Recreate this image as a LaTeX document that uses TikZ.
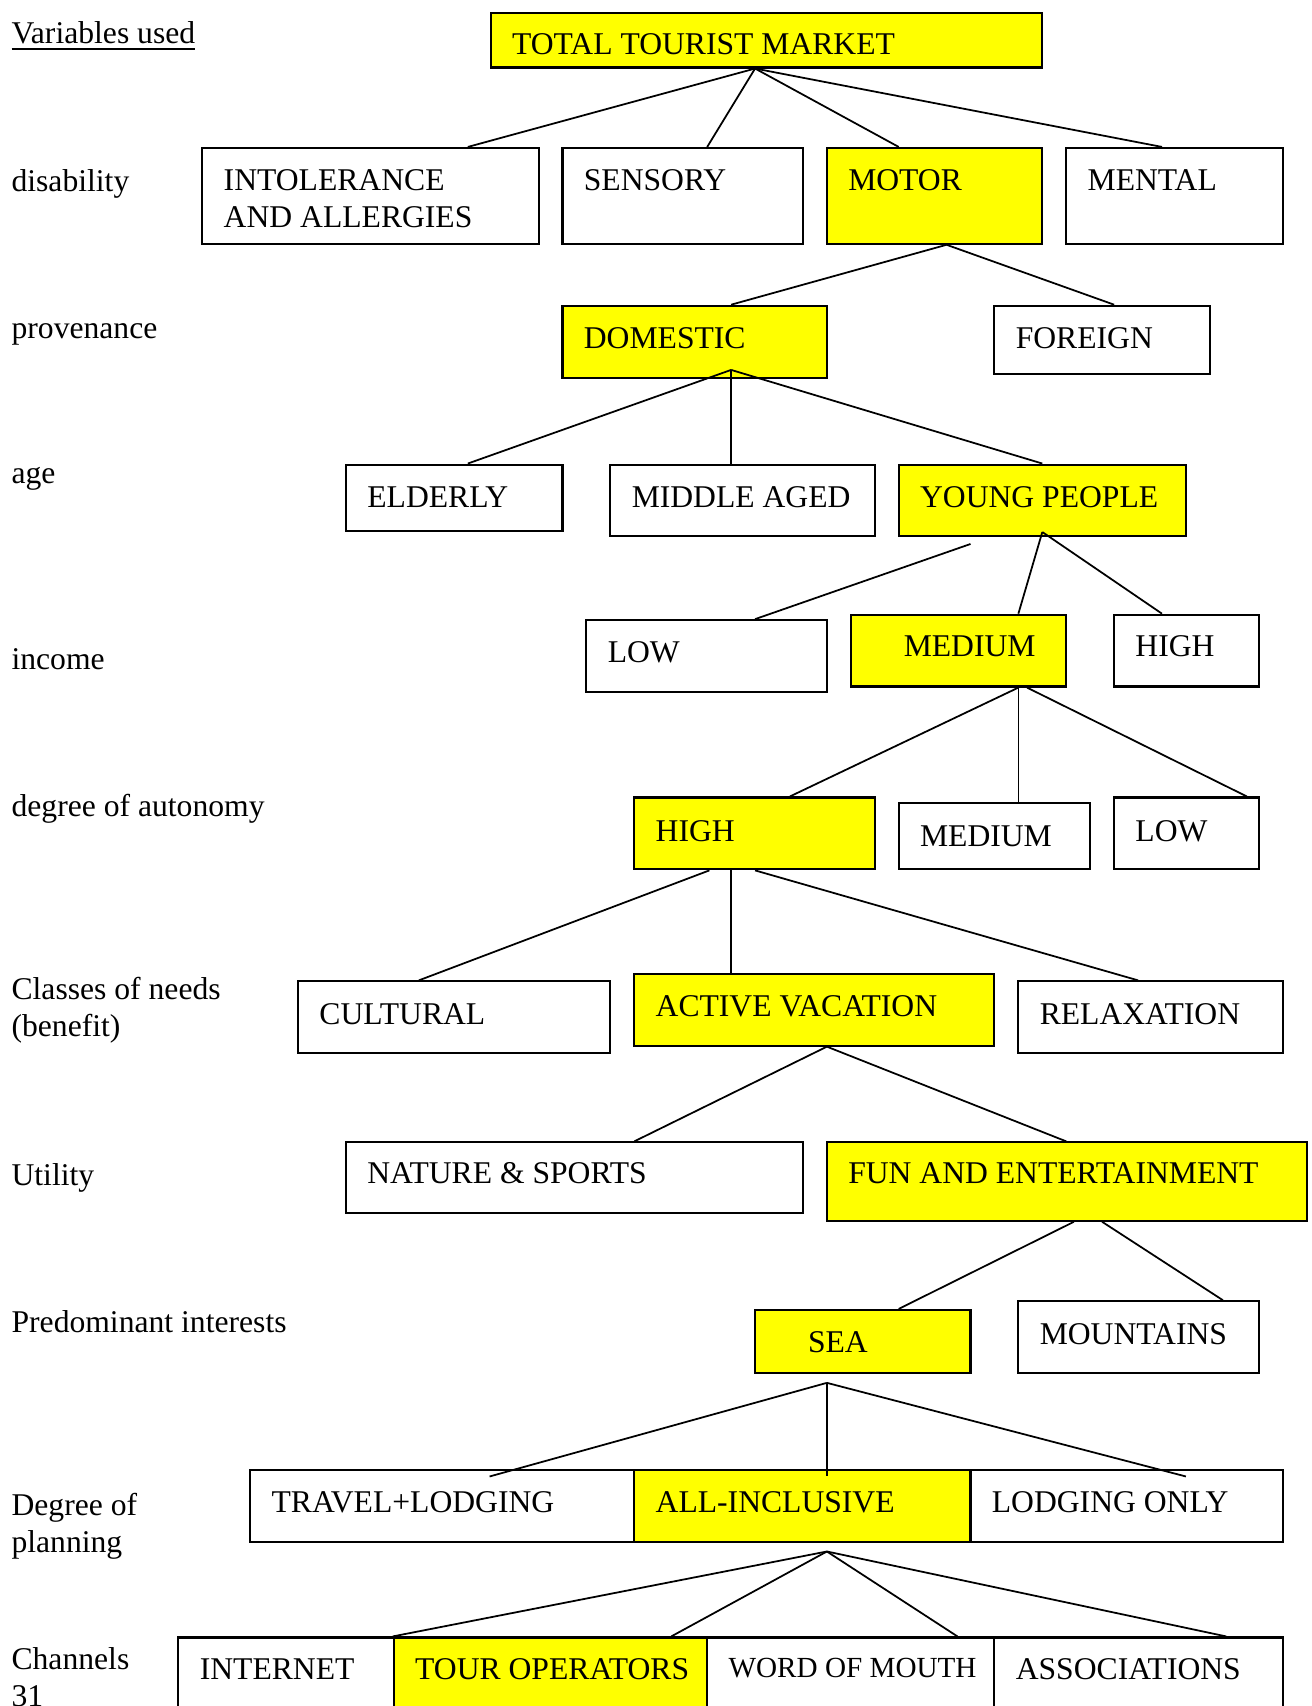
\documentclass[tikz,border=0pt]{standalone}
\usepackage{fontspec}
\setmainfont{Liberation Serif}
\usetikzlibrary{fit,calc}
\definecolor{hilite}{RGB}{255,255,0}
\tikzset{
  box/.style={draw,line width=0.6pt,inner sep=0pt},
  pick/.style={box,fill=hilite},
  txt/.style={anchor=base west,inner sep=0pt,align=left,font=\fontsize{9}{10.5}\selectfont},
  small/.style={txt,font=\fontsize{8.3}{10}\selectfont},
  link/.style={line width=0.5pt}
}
\begin{document}
\begin{tikzpicture}[x=0.01088cm,y=-0.01088cm]
  \useasboundingbox (0,0) rectangle (1205,1568);
  \clip (0,0) rectangle (1205,1568);
  \node[pick,fit={(451,12) (958,62)}] (ttm) {};
  \node[box,fit={(186,136) (495,224)}] (intol) {};
  \node[box,fit={(517,136) (738,224)}] (sens) {};
  \node[pick,fit={(760,136) (958,224)}] (motor) {};
  \node[box,fit={(980,136) (1179,224)}] (mental) {};
  \node[pick,fit={(517,281) (760,347)}] (dom) {};
  \node[box,fit={(914,281) (1112,344)}] (foreign) {};
  \node[box,fit={(318,427) (517,488)}] (elderly) {};
  \node[box,fit={(561,427) (804,493)}] (middle) {};
  \node[pick,fit={(826,427) (1090,493)}] (young) {};
  \node[box,fit={(539,570) (760,636)}] (inclow) {};
  \node[pick,fit={(782,565) (980,631)}] (incmed) {};
  \node[box,fit={(1024,565) (1157,631)}] (inchigh) {};
  \node[pick,fit={(583,733) (804,799)}] (authigh) {};
  \node[box,fit={(826,738) (1002,799)}] (autmed) {};
  \node[box,fit={(1024,733) (1157,799)}] (autlow) {};
  \node[box,fit={(274,902) (561,968)}] (cult) {};
  \node[pick,fit={(583,895) (914,961)}] (active) {};
  \node[box,fit={(936,902) (1179,968)}] (relax) {};
  \node[box,fit={(318,1050) (738,1115)}] (nature) {};
  \node[pick,fit={(760,1050) (1201,1122)}] (fun) {};
  \node[pick,fit={(694,1204) (892,1262)}] (sea) {};
  \node[box,fit={(936,1196) (1157,1262)}] (mount) {};
  \node[box,fit={(230,1351) (583,1417)}] (travel) {};
  \node[pick,fit={(583,1351) (892,1417)}] (allinc) {};
  \node[box,fit={(892,1351) (1179,1417)}] (lodging) {};
  \node[box,fit={(164,1505) (362,1620)}] (internet) {};
  \node[pick,fit={(362,1505) (650,1620)}] (tour) {};
  \node[box,fit={(650,1505) (914,1620)}] (word) {};
  \node[box,fit={(914,1505) (1179,1620)}] (assoc) {};

  \draw[link] (ttm.south -| 694,0) -- (intol.north -| 430,0);
  \draw[link] (ttm.south -| 694,0) -- (sens.north -| 650,0);
  \draw[link] (ttm.south -| 694,0) -- (motor.north -| 826,0);
  \draw[link] (ttm.south -| 694,0) -- (mental.north -| 1068,0);
  \draw[link] (motor.south -| 870,0) -- (dom.north -| 672,0);
  \draw[link] (motor.south -| 870,0) -- (foreign.north -| 1024,0);
  \draw[link] ($(dom.south -| 672,0)+(0,-8)$) -- (elderly.north -| 430,0);
  \draw[link] ($(dom.south -| 672,0)+(0,-8)$) -- (middle.north -| 672,0);
  \draw[link] ($(dom.south -| 672,0)+(0,-8)$) -- (young.north -| 958,0);
  \draw[link] ($(young.south -| 892,0)+(0,6)$) -- (inclow.north -| 694,0);
  \draw[link] ($(young.south -| 958,0)+(0,-5)$) -- (incmed.north -| 936,0);
  \draw[link] ($(young.south -| 958,0)+(0,-5)$) -- (inchigh.north -| 1068,0);
  \draw[link] (incmed.south -| 936,0) -- (authigh.north -| 726,0);
  \draw[link] (incmed.south -| 936,0) -- (autmed.north -| 936,0);
  \draw[link] (incmed.south -| 944,0) -- (autlow.north -| 1146,0);
  \draw[link] (authigh.south -| 652,0) -- (cult.north -| 385,0);
  \draw[link] (authigh.south -| 672,0) -- (active.north -| 672,0);
  \draw[link] (authigh.south -| 694,0) -- (relax.north -| 1046,0);
  \draw[link] (active.south -| 760,0) -- (nature.north -| 583,0);
  \draw[link] (active.south -| 760,0) -- (fun.north -| 980,0);
  \draw[link] (fun.south -| 987,0) -- (sea.north -| 826,0);
  \draw[link] (fun.south -| 1013,0) -- (mount.north -| 1124,0);
  \draw[link] ($(sea.south -| 760,0)+(0,8)$) -- ($(travel.north -| 450,0)+(0,7)$);
  \draw[link] ($(sea.south -| 760,0)+(0,8)$) -- ($(allinc.north -| 760,0)+(0,7)$);
  \draw[link] ($(sea.south -| 760,0)+(0,8)$) -- ($(lodging.north -| 1090,0)+(0,7)$);
  \draw[link] ($(allinc.south -| 760,0)+(0,8)$) -- (tour.north west);
  \draw[link] ($(allinc.south -| 760,0)+(0,8)$) -- (tour.north -| 617,0);
  \draw[link] ($(allinc.south -| 760,0)+(0,8)$) -- (word.north -| 880,0);
  \draw[link] ($(allinc.south -| 760,0)+(0,8)$) -- (assoc.north -| 1127,0);

  \node[txt] (ttm-t) at (470,50) {TOTAL TOURIST MARKET};
  \node[txt] (intol-t) at (205,209) {INTOLERANCE\\AND ALLERGIES};
  \node[txt] (sens-t) at (536,175) {SENSORY};
  \node[txt] (motor-t) at (779,175) {MOTOR};
  \node[txt] (mental-t) at (999,175) {MENTAL};
  \node[txt] (dom-t) at (536,320) {DOMESTIC};
  \node[txt] (foreign-t) at (933,320) {FOREIGN};
  \node[txt] (elderly-t) at (337,466) {ELDERLY};
  \node[txt] (middle-t) at (580,466) {MIDDLE AGED};
  \node[txt] (young-t) at (845,466) {YOUNG PEOPLE};
  \node[txt] (inclow-t) at (558,609) {LOW};
  \node[txt] (incmed-t) at (830,603) {MEDIUM};
  \node[txt] (inchigh-t) at (1043,603) {HIGH};
  \node[txt] (authigh-t) at (602,773) {HIGH};
  \node[txt] (autmed-t) at (845,778) {MEDIUM};
  \node[txt] (autlow-t) at (1043,773) {LOW};
  \node[txt] (cult-t) at (293,942) {CULTURAL};
  \node[txt] (active-t) at (602,934) {ACTIVE VACATION};
  \node[txt] (relax-t) at (955,942) {RELAXATION};
  \node[txt] (nature-t) at (337,1088) {NATURE \& SPORTS};
  \node[txt] (fun-t) at (779,1088) {FUN AND ENTERTAINMENT};
  \node[txt] (sea-t) at (742,1243) {SEA};
  \node[txt] (mount-t) at (955,1236) {MOUNTAINS};
  \node[txt] (travel-t) at (249,1390) {TRAVEL+LODGING};
  \node[txt] (allinc-t) at (602,1390) {ALL-INCLUSIVE};
  \node[txt] (lodging-t) at (911,1390) {LODGING ONLY};
  \node[txt] (internet-t) at (183,1544) {INTERNET};
  \node[txt] (tour-t) at (381,1544) {TOUR OPERATORS};
  \node[small] (word-t) at (669,1542) {WORD OF MOUTH};
  \node[txt] (assoc-t) at (933,1544) {ASSOCIATIONS};

  \node[txt] (v-head) at (10,40) {\underline{Variables used}};
  \node[txt] (v-dis) at (10,176) {disability};
  \node[txt] (v-prov) at (10,311) {provenance};
  \node[txt] (v-age) at (10,444) {age};
  \node[txt] (v-inc) at (10,615) {income};
  \node[txt] (v-aut) at (10,750) {degree of autonomy};
  \node[txt] (v-need) at (10,953) {Classes of needs\\(benefit)};
  \node[txt] (v-util) at (10,1090) {Utility};
  \node[txt] (v-int) at (10,1225) {Predominant interests};
  \node[txt] (v-plan) at (10,1427) {Degree of\\planning};
  \node[txt] (v-chan) at (10,1568) {Channels\\31};
\end{tikzpicture}
\end{document}
